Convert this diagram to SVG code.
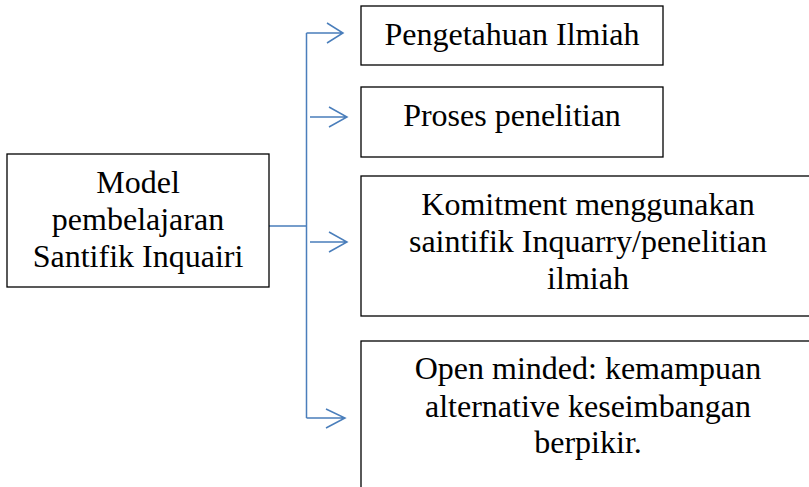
<svg xmlns="http://www.w3.org/2000/svg" width="809" height="487" viewBox="0 0 809 487">
<style>
.box{fill:#fff;stroke:#000;stroke-width:1.3}
.t{font-family:'Liberation Serif',Tinos,'Noto Serif','DejaVu Serif',serif;font-size:32px;fill:#000;text-anchor:middle}
.c{fill:none;stroke:#4a7ebb;stroke-width:1.5}
</style>
<rect width="809" height="487" fill="#fff"/>
<g id="connectors">
<path class="c" d="M269,226 H306.5 M306.5,33 V418"/>
<path class="c" d="M306.5,33 H343 M327,23 L343,33 L327,43"/>
<path class="c" d="M310,117 H347 M329,107 L347,117 L329,127"/>
<path class="c" d="M310,242 H347 M329,232 L347,242 L329,252"/>
<path class="c" d="M306.5,418 H345 M326,409 L345,418 L326,428"/>
</g>
<g id="node-model">
<rect class="box" x="7" y="154" width="262" height="133"/>
<text class="t" x="138" y="193">Model</text>
<text class="t" x="138" y="230">pembelajaran</text>
<text class="t" x="138" y="267">Santifik Inquairi</text>
</g>
<g id="node-pengetahuan">
<rect class="box" x="361" y="6" width="302" height="59"/>
<text class="t" x="512" y="45">Pengetahuan Ilmiah</text>
</g>
<g id="node-proses">
<rect class="box" x="361" y="87" width="302" height="70"/>
<text class="t" x="512" y="126">Proses penelitian</text>
</g>
<g id="node-komitment">
<rect class="box" x="361" y="176" width="460" height="140"/>
<text class="t" x="588" y="215">Komitment menggunakan</text>
<text class="t" x="588" y="252">saintifik Inquarry/penelitian</text>
<text class="t" x="588" y="289">ilmiah</text>
</g>
<g id="node-open">
<rect class="box" x="361" y="341" width="460" height="160"/>
<text class="t" x="588" y="379">Open minded: kemampuan</text>
<text class="t" x="588" y="417">alternative keseimbangan</text>
<text class="t" x="588" y="453">berpikir.</text>
</g>
</svg>
